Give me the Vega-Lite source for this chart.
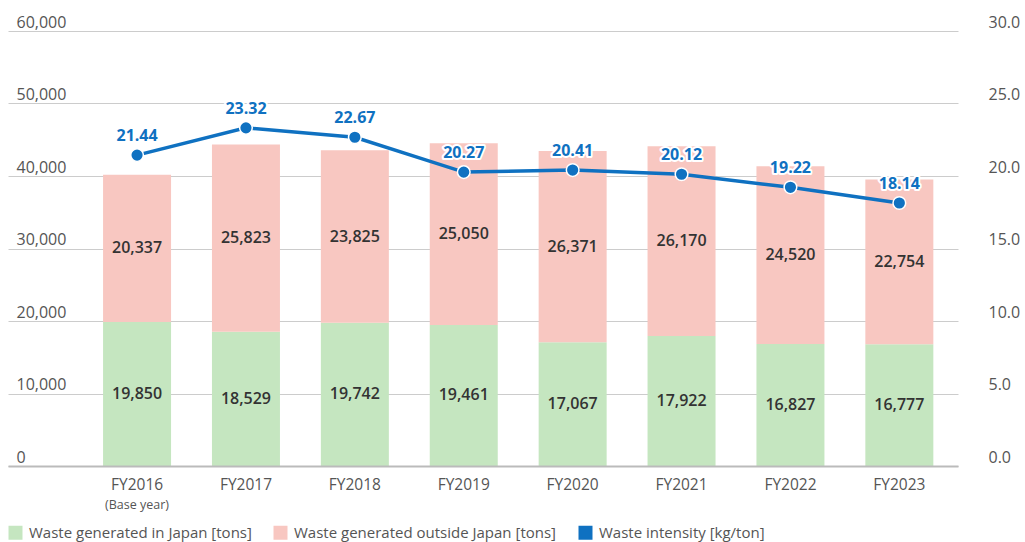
{
  "$schema": "https://vega.github.io/schema/vega-lite/v6.json",
  "width": 950,
  "height": 435,
  "autosize": {"type": "none"},
  "padding": {"left": 8, "top": 31, "right": 67, "bottom": 76},
  "config": {
    "font": "Open Sans",
    "view": {"stroke": null},
    "axis": {"labelFont": "Open Sans", "labelColor": "#555555", "labelFontSize": 16, "title": null}
  },
  "datasets": {
    "waste": [
      {"year": "FY2016", "series": "Waste generated in Japan [tons]", "tons": 19850},
      {"year": "FY2016", "series": "Waste generated outside Japan [tons]", "tons": 20337},
      {"year": "FY2017", "series": "Waste generated in Japan [tons]", "tons": 18529},
      {"year": "FY2017", "series": "Waste generated outside Japan [tons]", "tons": 25823},
      {"year": "FY2018", "series": "Waste generated in Japan [tons]", "tons": 19742},
      {"year": "FY2018", "series": "Waste generated outside Japan [tons]", "tons": 23825},
      {"year": "FY2019", "series": "Waste generated in Japan [tons]", "tons": 19461},
      {"year": "FY2019", "series": "Waste generated outside Japan [tons]", "tons": 25050},
      {"year": "FY2020", "series": "Waste generated in Japan [tons]", "tons": 17067},
      {"year": "FY2020", "series": "Waste generated outside Japan [tons]", "tons": 26371},
      {"year": "FY2021", "series": "Waste generated in Japan [tons]", "tons": 17922},
      {"year": "FY2021", "series": "Waste generated outside Japan [tons]", "tons": 26170},
      {"year": "FY2022", "series": "Waste generated in Japan [tons]", "tons": 16827},
      {"year": "FY2022", "series": "Waste generated outside Japan [tons]", "tons": 24520},
      {"year": "FY2023", "series": "Waste generated in Japan [tons]", "tons": 16777},
      {"year": "FY2023", "series": "Waste generated outside Japan [tons]", "tons": 22754}
    ],
    "intensity": [
      {"year": "FY2016", "intensity": 21.44},
      {"year": "FY2017", "intensity": 23.32},
      {"year": "FY2018", "intensity": 22.67},
      {"year": "FY2019", "intensity": 20.27},
      {"year": "FY2020", "intensity": 20.41},
      {"year": "FY2021", "intensity": 20.12},
      {"year": "FY2022", "intensity": 19.22},
      {"year": "FY2023", "intensity": 18.14}
    ]
  },
  "encoding": {
    "x": {
      "field": "year",
      "type": "nominal",
      "scale": {"paddingInner": 0.3756, "paddingOuter": 0.5497, "align": 0.794},
      "axis": {
        "title": null,
        "labelAngle": 0,
        "ticks": false,
        "domainColor": "#bbbbbb",
        "domainWidth": 2,
        "labelPadding": 11,
        "labelBaseline": "top",
        "labelFontSize": 15.5,
        "zindex": 1
      }
    }
  },
  "layer": [
    {
      "data": {"name": "waste"},
      "layer": [
        {
          "mark": {"type": "bar"},
          "encoding": {
            "y": {
              "field": "tons",
              "type": "quantitative",
              "scale": {"domain": [0, 60000]},
              "axis": {
                "orient": "left",
                "title": null,
                "values": [0, 10000, 20000, 30000, 40000, 50000, 60000],
                "format": ",.0f",
                "domain": false,
                "ticks": false,
                "tickSize": 0,
                "grid": true,
                "gridColor": "#cccccc",
                "gridWidth": 1,
                "labelAlign": "left",
                "labelPadding": -8,
                "labelBaseline": "alphabetic",
                "labelOffset": -4
              }
            },
            "order": {"field": "series", "sort": "ascending"},
            "color": {
              "field": "series",
              "type": "nominal",
              "scale": {
                "domain": ["Waste generated in Japan [tons]", "Waste generated outside Japan [tons]", "Waste intensity [kg/ton]"],
                "range": ["#c5e6c0", "#f8c7c1", "#0f71c1"]
              },
              "legend": {
                "orient": "none",
                "legendX": 0,
                "legendY": 494,
                "direction": "horizontal",
                "title": null,
                "symbolType": "square",
                "symbolSize": 196,
                "symbolStrokeWidth": 0,
                "labelFontSize": 15,
                "labelColor": "#555555",
                "labelOffset": 6,
                "labelLimit": 500,
                "columnPadding": 21
              }
            }
          }
        },
        {
          "transform": [
            {"stack": "tons", "groupby": ["year"], "sort": [{"field": "series", "order": "ascending"}], "as": ["lo", "hi"]},
            {"calculate": "(datum.lo + datum.hi) / 2", "as": "mid"}
          ],
          "mark": {"type": "text", "fontSize": 16, "fontWeight": 600, "color": "#333333", "baseline": "middle"},
          "encoding": {
            "y": {
              "field": "mid",
              "type": "quantitative",
              "scale": {"domain": [0, 60000]},
              "axis": {
                "orient": "left",
                "title": null,
                "values": [0, 10000, 20000, 30000, 40000, 50000, 60000],
                "format": ",.0f",
                "domain": false,
                "ticks": false,
                "tickSize": 0,
                "grid": true,
                "gridColor": "#cccccc",
                "gridWidth": 1,
                "labelAlign": "left",
                "labelPadding": -8,
                "labelBaseline": "alphabetic",
                "labelOffset": -4
              }
            },
            "text": {"field": "tons", "type": "quantitative", "format": ","}
          }
        }
      ]
    },
    {
      "data": {"name": "intensity"},
      "encoding": {
        "y": {
          "field": "intensity",
          "type": "quantitative",
          "scale": {"domain": [0, 30]},
          "axis": {
            "orient": "right",
            "title": null,
            "values": [0, 5, 10, 15, 20, 25, 30],
            "format": ".1f",
            "domain": false,
            "ticks": false,
            "tickSize": 0,
            "grid": false,
            "labelAlign": "left",
            "labelPadding": 30,
            "labelBaseline": "alphabetic",
            "labelOffset": -4
          }
        }
      },
      "layer": [
        {"mark": {"type": "line", "color": "#0f71c1", "strokeWidth": 3.5}},
        {"mark": {"type": "point", "shape": "circle", "filled": true, "size": 160, "fill": "#0f71c1", "stroke": "#ffffff", "strokeWidth": 1.5, "opacity": 1}},
        {
          "mark": {"type": "text", "fontSize": 16, "fontWeight": "bold", "stroke": "#ffffff", "strokeWidth": 4, "strokeJoin": "round", "fill": "#ffffff", "baseline": "alphabetic", "dy": -14},
          "encoding": {"text": {"field": "intensity", "type": "quantitative", "format": ".2f"}}
        },
        {
          "mark": {"type": "text", "fontSize": 16, "fontWeight": "bold", "fill": "#0f71c1", "baseline": "alphabetic", "dy": -14},
          "encoding": {"text": {"field": "intensity", "type": "quantitative", "format": ".2f"}}
        },
        {
          "transform": [{"filter": "datum.year == 'FY2016'"}],
          "mark": {"type": "text", "fontSize": 12.5, "color": "#555555", "baseline": "middle", "dy": 39},
          "encoding": {
            "y": {"datum": 0, "type": "quantitative"},
            "text": {"value": "(Base year)"}
          }
        }
      ]
    }
  ],
  "resolve": {"scale": {"y": "independent"}}
}
